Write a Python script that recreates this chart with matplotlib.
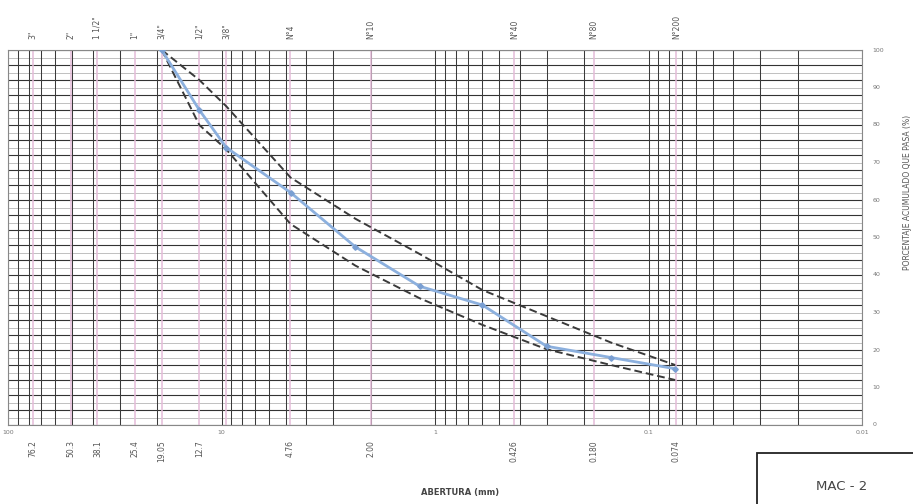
import matplotlib
matplotlib.use("Agg")
import matplotlib.pyplot as plt
from matplotlib.patches import Rectangle
from matplotlib.transforms import blended_transform_factory

# sieve openings (mm) used for the curve
sieves = [19.05, 12.7, 9.5, 4.75, 2.36, 1.18, 0.6, 0.3, 0.15, 0.075]
passing = [100, 84, 74, 62, 47.5, 37, 32, 21, 18, 15]
upper = [100, 92, 85, 66, 55, 45.6, 36, 29, 22, 16]
lower = [100, 80, 73.5, 53.6, 42.5, 33.8, 26.7, 20.2, 16, 12]

# top sieve names and bottom aperture labels
top_names = ['3"', '2"', '1 1/2"', '1"', '3/4"', '1/2"', '3/8"', 'N°4', 'N°10', 'N°40', 'N°80', 'N°200']
top_sizes = [76.2, 50.8, 38.1, 25.4, 19.05, 12.7, 9.5, 4.76, 2.0, 0.425, 0.18, 0.074]
bottom_labels = ['76.2', '50.3', '38.1', '25.4', '19.05', '12.7', '4.76', '2.00', '0.426', '0.180', '0.074']
bottom_sizes = [76.2, 50.8, 38.1, 25.4, 19.05, 12.7, 4.76, 2.0, 0.425, 0.18, 0.074]
decades = [100, 10, 1, 0.1, 0.01]
decade_labels = ['100', '10', '1', '0.1', '0.01']

fig = plt.figure(figsize=(9.13, 5.04), dpi=100)
ax = fig.add_axes([8 / 913, 79 / 504, 854 / 913, 375 / 504])
ax.set_xscale('log')
ax.set_xlim(100, 0.01)
ax.set_ylim(0, 100)
ax.set_xticks([])
ax.set_yticks([])
ax.minorticks_off()
for s in ax.spines.values():
    s.set_color('#888888')
    s.set_linewidth(0.8)

# grid: horizontal every 2 %
for i, yv in enumerate(range(0, 101, 2)):
    if i % 2 == 0:
        ax.axhline(yv, color='#333333', lw=0.8, zorder=1)
    else:
        ax.axhline(yv, color='#b5b5b5', lw=0.6, zorder=1)

# grid: vertical log lines
for d in [0.01, 0.1, 1, 10]:
    for k in range(1, 10):
        ax.axvline(k * d, color='#3a3a3a', lw=0.75, zorder=1)
ax.axvline(100, color='#3a3a3a', lw=0.75, zorder=1)

# sieve lines (pink)
for v in top_sizes:
    ax.axvline(v, color='#e4bcd8', lw=1.1, zorder=1.5)

# envelopes and curve
ax.plot(sieves, upper, color='#3a3a3a', lw=1.4, ls=(0, (4, 2)), zorder=3)
ax.plot(sieves, lower, color='#3a3a3a', lw=1.4, ls=(0, (4, 2)), zorder=3)
ax.plot(sieves, passing, color='#8cb0de', lw=2.0, marker='D', ms=2.8,
        mfc='#7a9fd2', mec='#7a9fd2', zorder=4)

tr = blended_transform_factory(ax.transData, ax.transAxes)
tc = '#555555'

for name, v in zip(top_names, top_sizes):
    ax.text(v, 1.03, name, transform=tr, rotation=90, ha='center', va='bottom',
            fontsize=5.5, color=tc)

for lab, v in zip(bottom_labels, bottom_sizes):
    ax.text(v, -0.04, lab, transform=tr, rotation=90, ha='center', va='top',
            fontsize=5.5, color=tc)

for lab, v in zip(decade_labels, decades):
    ax.text(v, -0.012, lab, transform=tr, ha='center', va='top',
            fontsize=4.5, color='#777777')

for yv in range(0, 101, 10):
    ax.text(1.012, yv, str(yv), transform=blended_transform_factory(ax.transAxes, ax.transData),
            ha='left', va='center', fontsize=4.5, color='#777777')

fig.text(460 / 913, 1 - 492 / 504, 'ABERTURA (mm)', ha='center', va='center',
         fontsize=6, fontweight='bold', color='#444444')
fig.text(907 / 913, 1 - 192 / 504, 'PORCENTAJE ACUMULADO QUE PASA (%)', rotation=90,
         ha='center', va='center', fontsize=5.5, color='#555555')

box = Rectangle((757 / 913, -0.05), 0.3, 0.05 + (504 - 453) / 504, transform=fig.transFigure,
                fill=False, ec='#222222', lw=1.3, clip_on=False)
fig.patches.append(box)
fig.text(842 / 913, 1 - 486 / 504, 'MAC - 2', ha='center', va='center',
         fontsize=9.5, color='#444444')

fig.savefig('out.png', dpi=100)
